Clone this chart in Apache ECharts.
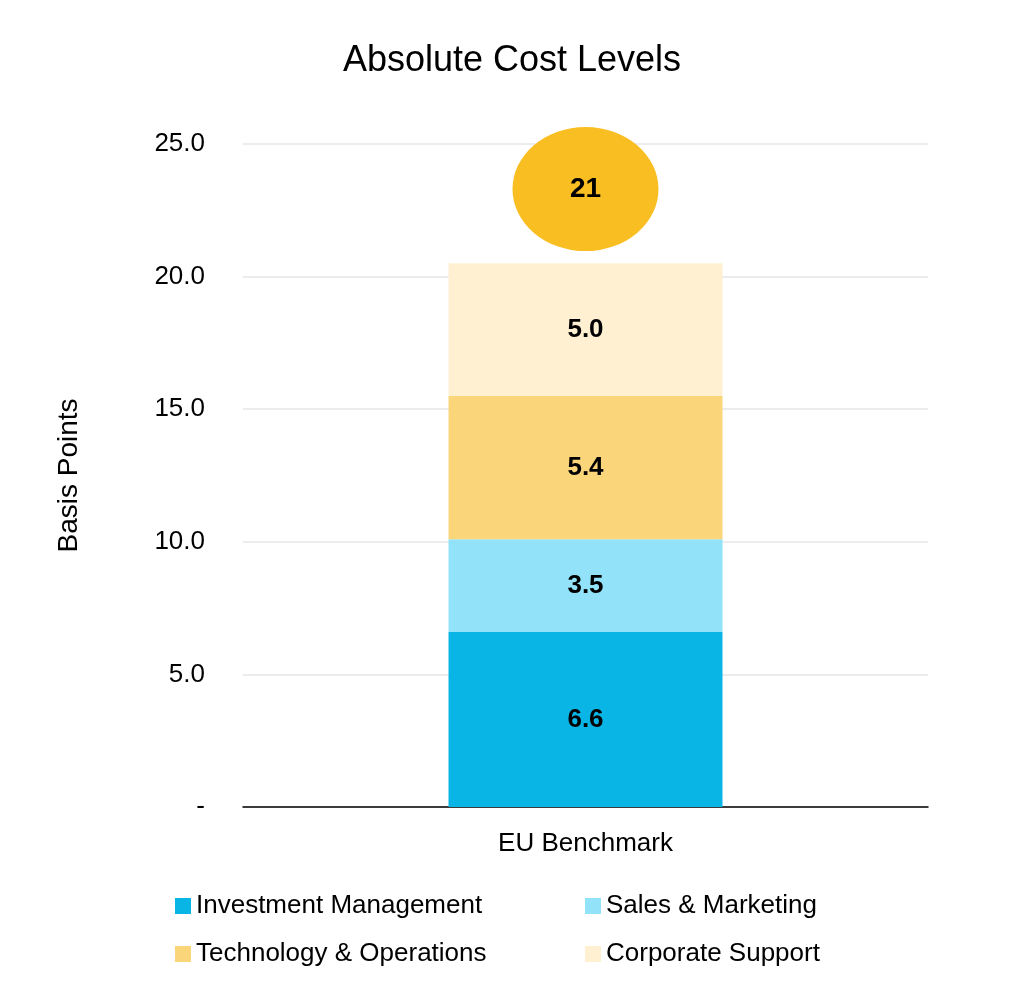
<!DOCTYPE html>
<html>
<head>
<meta charset="utf-8">
<script src="https://cdn.jsdelivr.net/npm/echarts@6/dist/echarts.min.js"></script>
<style>html,body{margin:0;padding:0;background:#fff}#chart{width:1024px;height:995px}</style>
</head>
<body>
<div id="chart"></div>
<script>
var categories = ['EU Benchmark'];
var seriesNames = ['Investment Management', 'Sales & Marketing', 'Technology & Operations', 'Corporate Support'];
var seriesValues = [[6.6], [3.5], [5.4], [5.0]];
var colors = ['#08B5E5', '#92E3FA', '#FBD57A', '#FEF0D0'];
var totalLabelPos = [23.3]; // where the total bubble sits on the value axis
var totals = categories.map(function (c, i) {
  var s = 0;
  seriesValues.forEach(function (v) { s += v[i]; });
  return s;
});

var font = 'Liberation Sans, Arial, sans-serif';
var chart = echarts.init(document.getElementById('chart'));

var series = seriesNames.map(function (name, k) {
  return {
    name: name, type: 'bar', stack: 'cost', barWidth: '40%',
    data: seriesValues[k],
    itemStyle: { color: colors[k] },
    label: { show: true, formatter: function (p) { return p.value.toFixed(1); },
      color: '#000', fontWeight: 'bold', fontSize: 26, fontFamily: font }
  };
});
series.push({
  type: 'scatter', data: totalLabelPos, symbol: 'circle', symbolSize: [146, 124],
  itemStyle: { color: '#F9BE22', opacity: 1 }, z: 5,
  label: { show: true, position: 'inside', formatter: function (p) { return Math.round(totals[p.dataIndex]); },
    color: '#000', fontWeight: 'bold', fontSize: 28, fontFamily: font }
});

function legendAt(name, left, top) {
  return { data: [name], left: left, top: top, itemWidth: 16, itemHeight: 16, icon: 'rect',
    textStyle: { fontSize: 26, fontFamily: font, color: '#000' } };
}

chart.setOption({
  animation: false,
  title: { text: 'Absolute Cost Levels', left: 'center', top: 38,
    textStyle: { fontSize: 36, fontWeight: 'normal', fontFamily: font, color: '#000' } },
  grid: { left: 243, right: 96, top: 144, bottom: 188 },
  legend: [
    legendAt(seriesNames[0], 170, 888),
    legendAt(seriesNames[1], 580, 888),
    legendAt(seriesNames[2], 170, 936),
    legendAt(seriesNames[3], 580, 936)
  ],
  xAxis: { type: 'category', data: categories,
    axisLine: { lineStyle: { color: '#000', width: 1.5 } }, axisTick: { show: false },
    axisLabel: { fontSize: 26, fontFamily: font, color: '#000', margin: 24 } },
  yAxis: { type: 'value', min: 0, max: 25, interval: 5,
    name: 'Basis Points', nameLocation: 'middle', nameGap: 160,
    nameTextStyle: { fontSize: 28, fontFamily: font, color: '#000' },
    axisLabel: { fontSize: 26, fontFamily: font, color: '#000', margin: 38,
      formatter: function (v) { return v === 0 ? '-' : v.toFixed(1); } },
    splitLine: { lineStyle: { color: '#E6E6E6', width: 1.5 } } },
  series: series
});
</script>
</body>
</html>
